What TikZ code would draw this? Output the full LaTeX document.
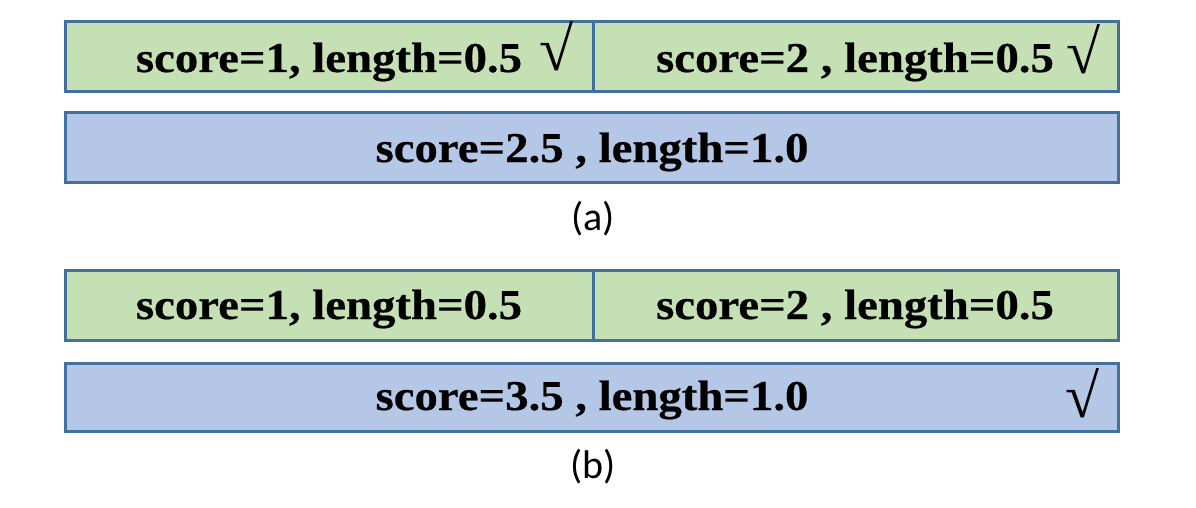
\documentclass[tikz,border=0pt]{standalone}
\usepackage{fontspec}
\setmainfont{Liberation Serif}[FakeStretch=1.1,BoldFeatures={FakeBold=0.5}]
\newfontfamily\capfont{Carlito}
\newfontfamily\chkfont{Liberation Serif}
\definecolor{gfill}{HTML}{C5E0B4}
\definecolor{bfill}{HTML}{B4C7E7}
\definecolor{bord}{HTML}{41719C}
\begin{document}
\begin{tikzpicture}[x=1pt,y=-1pt,
  cell/.style={draw=bord,line width=3pt,inner sep=0pt,outer sep=0pt},
  gcell/.style={cell,fill=gfill},
  bcell/.style={cell,fill=bfill},
  lbl/.style={font=\fontsize{42.5}{46}\selectfont\bfseries,inner sep=0pt,anchor=base},
  chk/.style={font=\fontsize{62}{66}\selectfont\chkfont,inner sep=0pt,anchor=center},
  captext/.style={font=\fontsize{40}{44}\selectfont\capfont,inner sep=0pt}]
\useasboundingbox (0,0) rectangle (1196,508);
% (a)
\draw[gcell] (65,22) rectangle (593,92);
\draw[gcell] (593,22) rectangle (1118,92);
\draw[bcell] (65,113) rectangle (1118,182);
\node[lbl] (a1) at (329,72) {score=1, length=0.5};
\node[chk] (a1c) at (557,46) {√};
\node[lbl] (a2) at (855,72) {score=2 , length=0.5};
\node[chk] (a2c) at (1083,49) {√};
\node[lbl] (a3) at (592,162) {score=2.5 , length=1.0};
\node[captext] (capa) at (593,219) {(a)};
% (b)
\draw[gcell] (65,270) rectangle (593,340);
\draw[gcell] (593,270) rectangle (1118,340);
\draw[bcell] (65,363) rectangle (1118,431);
\node[lbl] (b1) at (329,319) {score=1, length=0.5};
\node[lbl] (b2) at (855,319) {score=2 , length=0.5};
\node[lbl] (b3) at (592,410) {score=3.5 , length=1.0};
\node[chk] (b3c) at (1082,393) {√};
\node[captext] (capb) at (593,467) {(b)};
\end{tikzpicture}
\end{document}
